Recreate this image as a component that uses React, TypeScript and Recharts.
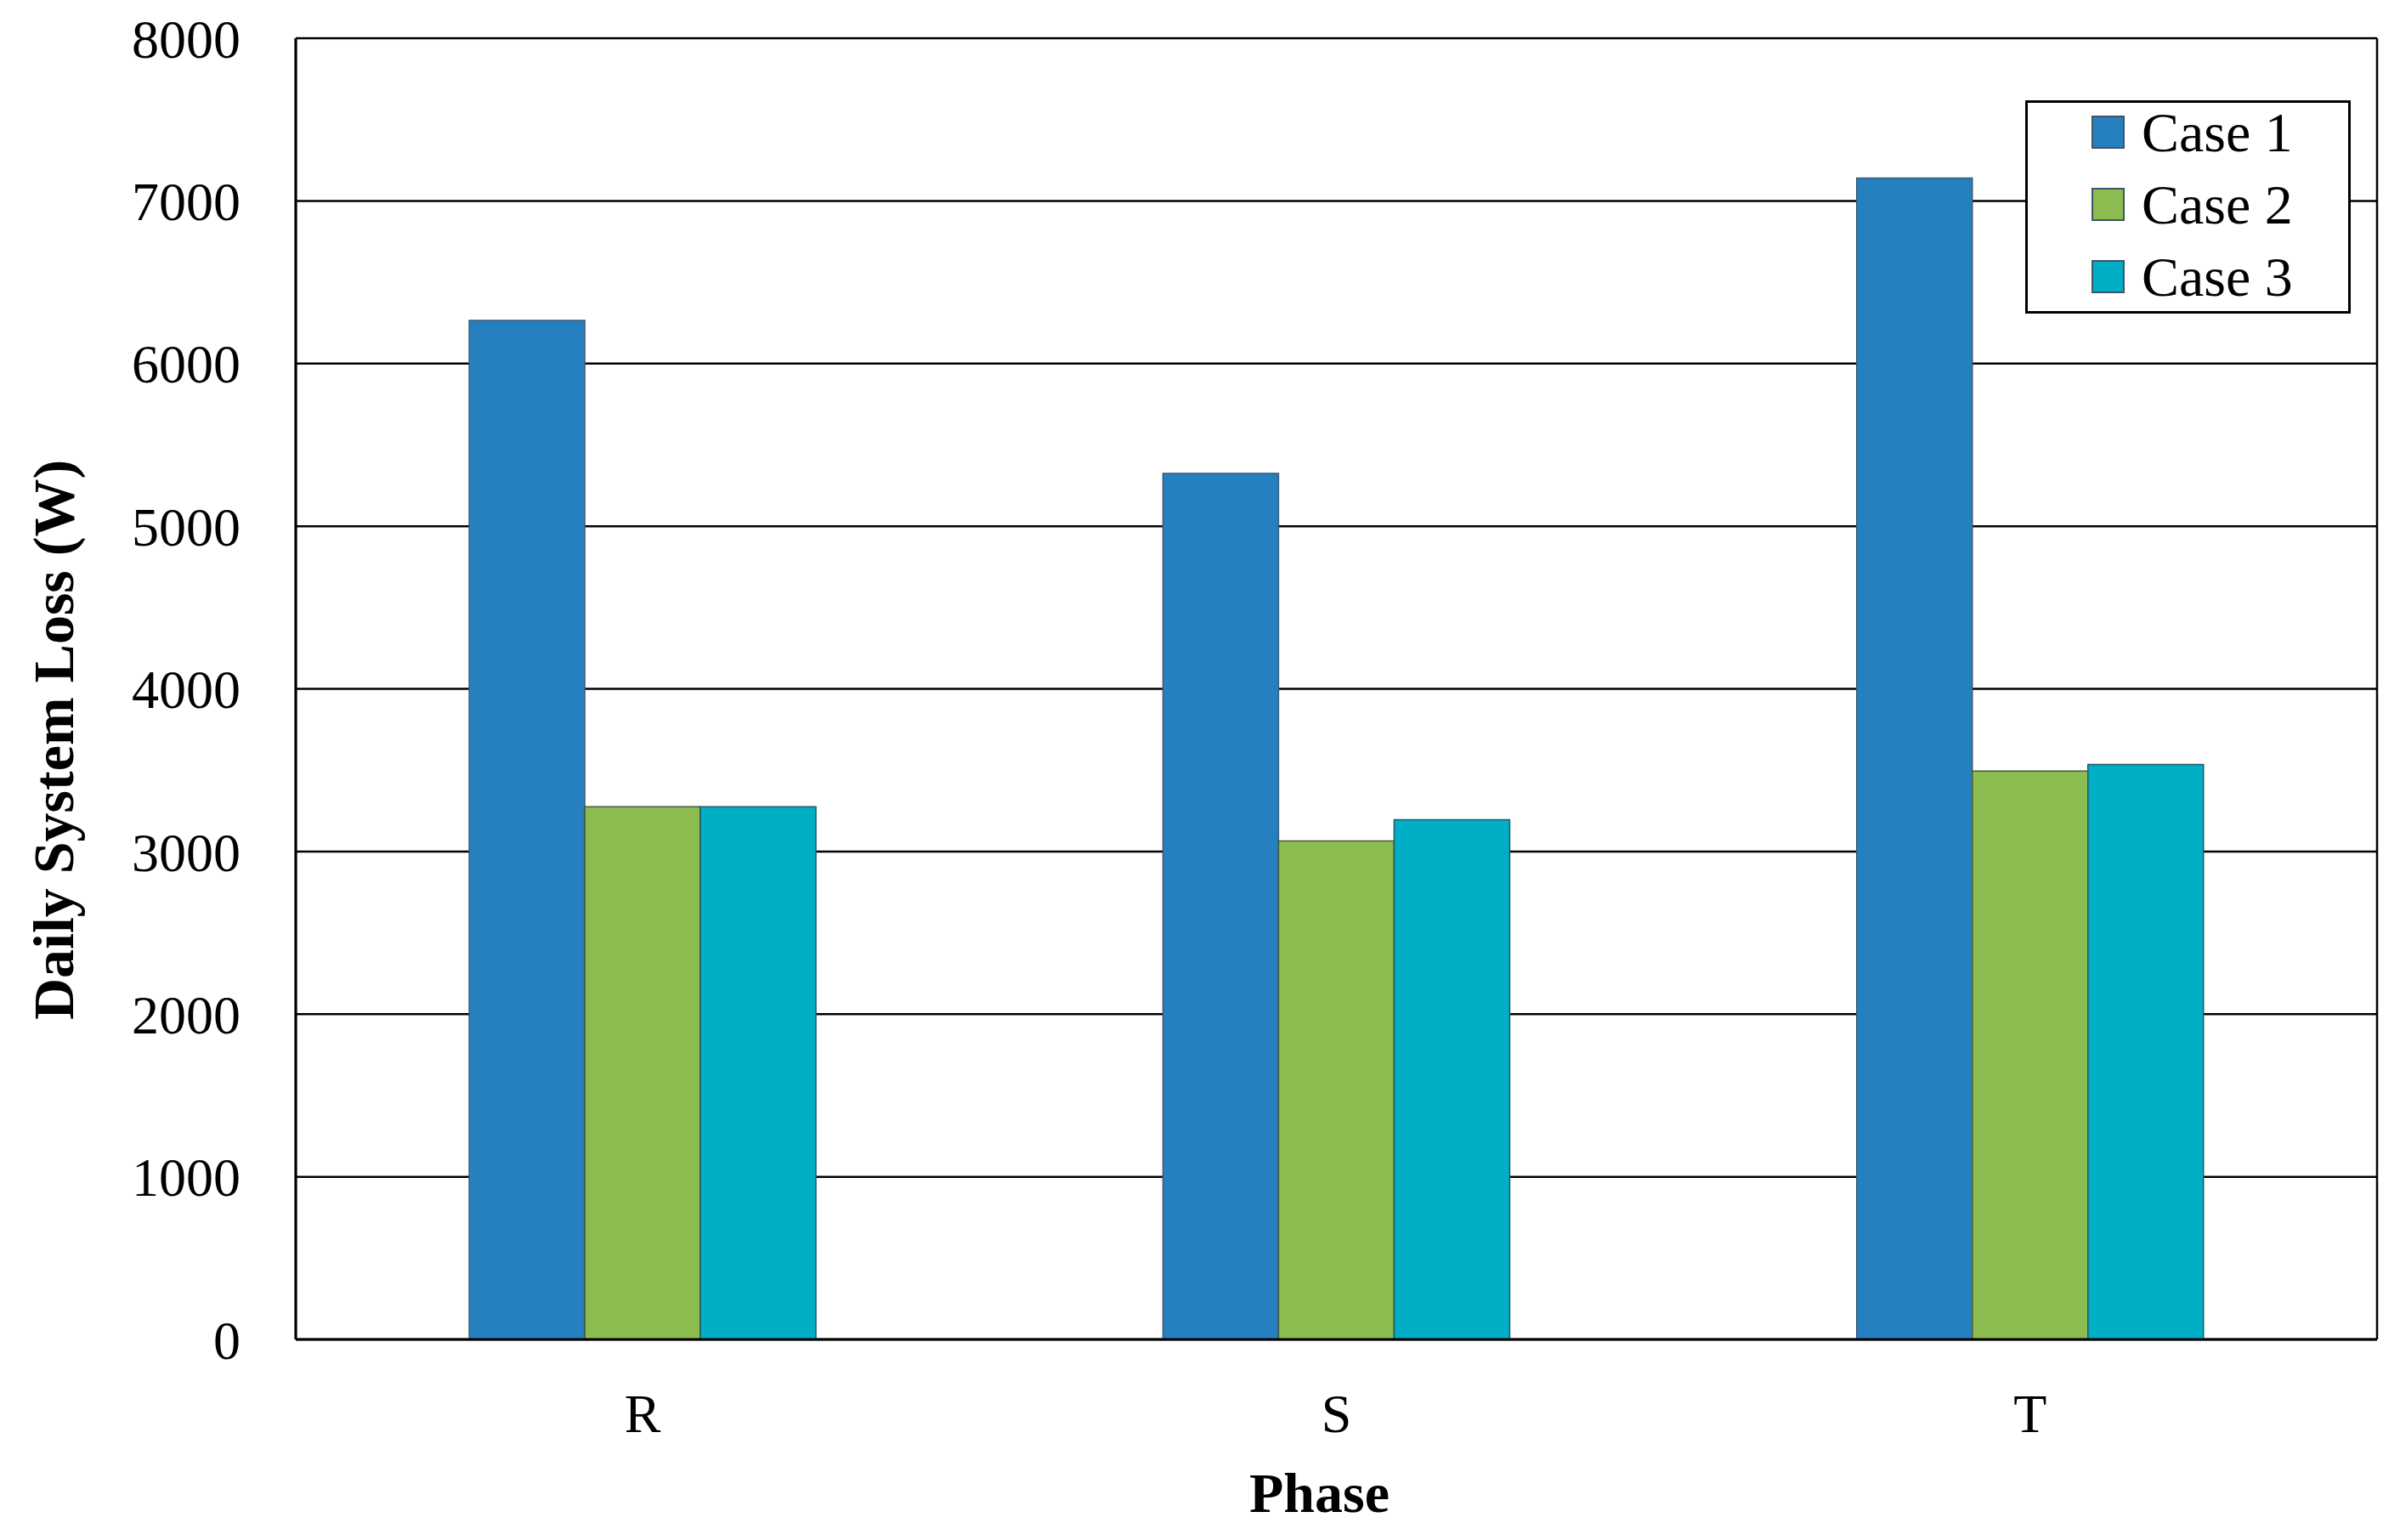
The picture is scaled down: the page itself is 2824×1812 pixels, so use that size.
import React from 'react';
import {
  BarChart,
  Bar,
  XAxis,
  YAxis,
  CartesianGrid,
  Legend,
  Label,
} from 'recharts';

const phases = ['R', 'S', 'T'];
const case1 = [6265, 5325, 7140];
const case2 = [3275, 3065, 3495];
const case3 = [3275, 3195, 3535];
const yTicks = [0, 1000, 2000, 3000, 4000, 5000, 6000, 7000, 8000];

const seriesNames = ['Case 1', 'Case 2', 'Case 3'];
const seriesColors = ['#2680BF', '#8CBB4F', '#00AEC6'];

const data = phases.map((p, i) => ({
  phase: p,
  c1: case1[i],
  c2: case2[i],
  c3: case3[i],
}));

const FONT = "'Liberation Serif', 'Times New Roman', serif";

// legend drawn as a boxed list, like the original figure
const LegendBox = ({ payload }: any) => (
  <div
    style={{
      border: '3px solid #000',
      background: '#fff',
      width: 383,
      height: 251,
      boxSizing: 'border-box',
      paddingLeft: 75,
      fontFamily: FONT,
    }}
  >
    <div style={{ marginTop: -8 }}>
      {(payload || []).map((item: any) => (
        <div key={item.value} style={{ display: 'flex', alignItems: 'center', height: 85 }}>
          <span
            style={{
              display: 'inline-block',
              width: 39,
              height: 39,
              background: item.color,
              border: '2px solid #3d5566',
              boxSizing: 'border-box',
              marginRight: 20,
            }}
          />
          <span style={{ fontSize: 66, color: '#000', lineHeight: 1 }}>{item.value}</span>
        </div>
      ))}
    </div>
  </div>
);

const YTitle = ({ viewBox }: any) => {
  const x = viewBox.x + 55;
  const y = viewBox.y + viewBox.height / 2 + 60;
  return (
    <text
      x={x}
      y={y}
      transform={`rotate(-90 ${x} ${y})`}
      textAnchor="middle"
      dominantBaseline="central"
      fontFamily={FONT}
      fontWeight="bold"
      fontSize={68}
      fill="#000"
    >
      Daily System Loss (W)
    </text>
  );
};

export default function App() {
  return (
    <div style={{ width: 2808, height: 1796, background: '#fff' }}>
      <BarChart
        width={2808}
        height={1796}
        data={data}
        margin={{ top: 37, right: 19, left: 0, bottom: 0 }}
        barCategoryGap="25%"
        barGap={0}
        style={{ fontFamily: FONT }}
      >
        <CartesianGrid
          stroke="#000"
          strokeWidth={2.5}
          verticalCoordinatesGenerator={({ offset }: any) => [
            offset.left,
            offset.left + offset.width,
          ]}
        />
        <XAxis
          dataKey="phase"
          height={228}
          axisLine={{ stroke: '#000', strokeWidth: 3 }}
          tickLine={false}
          tickSize={10}
          tickMargin={54}
          tick={{ fill: '#000', fontSize: 64, fontFamily: FONT }}
        >
          <Label
            value="Phase"
            position="insideBottom"
            offset={25}
            dx={-20}
            style={{ fontFamily: FONT, fontWeight: 'bold', fontSize: 66, fill: '#000' }}
          />
        </XAxis>
        <YAxis
          width={340}
          domain={[0, 8000]}
          ticks={yTicks}
          interval={0}
          axisLine={{ stroke: '#000', strokeWidth: 3 }}
          tickLine={false}
          tickSize={10}
          tickMargin={55}
          tick={{ fill: '#000', fontSize: 64, fontFamily: FONT }}
        >
          <Label content={<YTitle />} />
        </YAxis>
        <Legend
          layout="horizontal"
          verticalAlign="middle"
          align="center"
          content={<LegendBox />}
          wrapperStyle={{ position: 'absolute', left: 2375, top: 110, width: 383, height: 251 }}
        />
        <Bar dataKey="c1" name={seriesNames[0]} fill={seriesColors[0]} stroke="#3a5a78" strokeWidth={1.5} isAnimationActive={false} />
        <Bar dataKey="c2" name={seriesNames[1]} fill={seriesColors[1]} stroke="#3f5a3a" strokeWidth={1.5} isAnimationActive={false} />
        <Bar dataKey="c3" name={seriesNames[2]} fill={seriesColors[2]} stroke="#1f5a66" strokeWidth={1.5} isAnimationActive={false} />
      </BarChart>
    </div>
  );
}
